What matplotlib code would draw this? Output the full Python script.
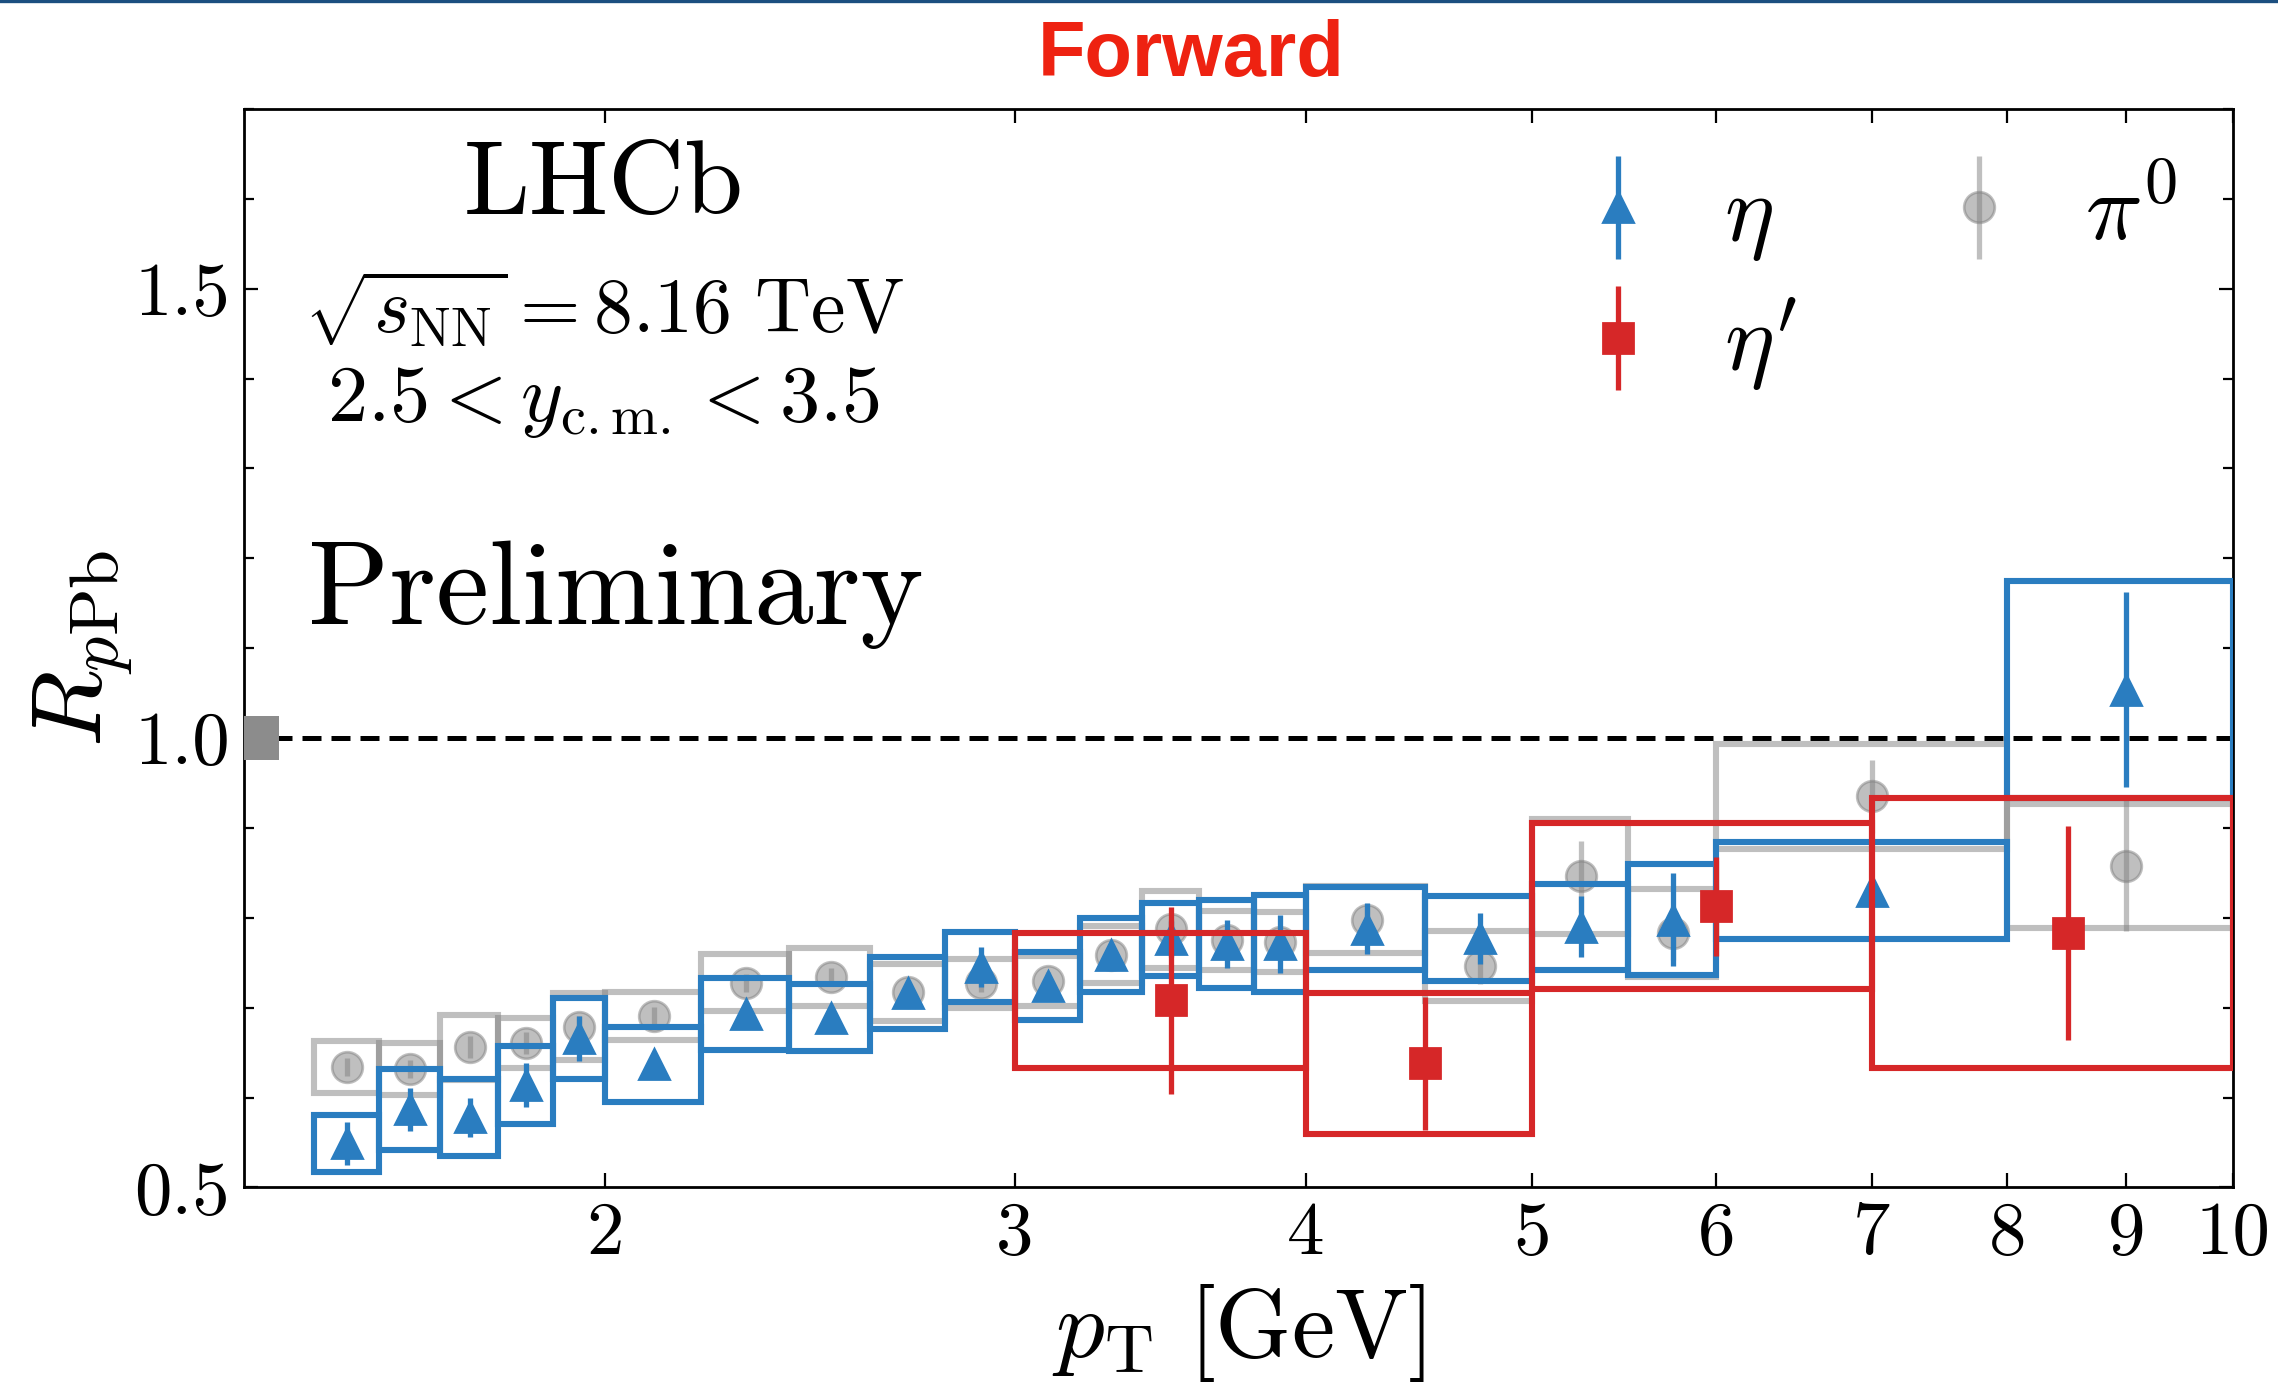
import matplotlib
matplotlib.use("Agg")
from matplotlib import pyplot as plt
from matplotlib.patches import Rectangle
from matplotlib.lines import Line2D
from matplotlib.ticker import MultipleLocator, NullLocator
from matplotlib.container import ErrorbarContainer
from matplotlib.legend_handler import HandlerErrorbar

plt.rcParams["font.family"] = "cmr10"
plt.rcParams["mathtext.fontset"] = "cm"
plt.rcParams["axes.formatter.use_mathtext"] = True

# eta: pT bin edges [GeV], R_pPb, stat. error, syst. error (box half height)
ETA_EDGES = [1.5, 1.6, 1.7, 1.8, 1.9, 2.0, 2.2, 2.4, 2.6, 2.8, 3.0,
             3.2, 3.4, 3.6, 3.8, 4.0, 4.5, 5.0, 5.5, 6.0, 8.0, 10.0]
ETA_VAL = [0.549, 0.587, 0.578, 0.614, 0.666, 0.637, 0.693, 0.689, 0.716, 0.745, 0.724,
           0.759, 0.776, 0.771, 0.771, 0.788, 0.777, 0.790, 0.798, 0.830, 1.054]
ETA_STAT = [0.024, 0.024, 0.022, 0.024, 0.025, 0.010, 0.010, 0.010, 0.010, 0.022, 0.012,
            0.012, 0.020, 0.027, 0.032, 0.028, 0.028, 0.034, 0.052, 0.012, 0.108]
ETA_SYS = [0.032, 0.045, 0.043, 0.043, 0.045, 0.042, 0.040, 0.037, 0.040, 0.039, 0.038,
           0.041, 0.041, 0.049, 0.054, 0.046, 0.047, 0.048, 0.062, 0.054, 0.121]

# pi0
PI0_EDGES = [1.5, 1.6, 1.7, 1.8, 1.9, 2.0, 2.2, 2.4, 2.6, 2.8, 3.0,
             3.2, 3.4, 3.6, 3.8, 4.0, 4.5, 5.0, 5.5, 6.0, 8.0, 10.0]
PI0_VAL = [0.634, 0.632, 0.656, 0.661, 0.679, 0.691, 0.728, 0.734, 0.717, 0.727, 0.730,
           0.759, 0.787, 0.775, 0.773, 0.798, 0.746, 0.846, 0.783, 0.935, 0.858]
PI0_STAT = [0.010, 0.010, 0.012, 0.012, 0.012, 0.010, 0.010, 0.010, 0.010, 0.010, 0.010,
            0.010, 0.012, 0.012, 0.012, 0.015, 0.020, 0.039, 0.030, 0.041, 0.073]
PI0_SYS = [0.029, 0.029, 0.036, 0.028, 0.037, 0.027, 0.032, 0.032, 0.032, 0.027, 0.028,
           0.032, 0.043, 0.033, 0.033, 0.037, 0.039, 0.064, 0.049, 0.058, 0.069]

# eta prime
ETAP_EDGES = [3.0, 4.0, 5.0, 7.0, 10.0]
ETAP_VAL = [0.708, 0.638, 0.813, 0.783]
ETAP_STAT = [0.104, 0.074, 0.055, 0.119]
ETAP_SYS = [0.075, 0.078, 0.092, 0.150]

NORM_UNC = 0.024

XTICKS = [2, 3, 4, 5, 6, 7, 8, 9, 10]
YTICKS = [0.5, 1.0, 1.5]

BLUE = "#2a7dc0"
RED = "#d62728"
GRAY = "gray"


def draw_species(ax, edges, val, stat, sys, color, marker, alpha, z, label):
    for lo, hi, v, s in zip(edges[:-1], edges[1:], val, sys):
        ax.add_patch(Rectangle((lo, v - s), hi - lo, 2 * s, fill=False,
                               edgecolor=color, alpha=alpha, lw=2.2, zorder=z))
    x = [(lo + hi) / 2 for lo, hi in zip(edges[:-1], edges[1:])]
    return ax.errorbar(x, val, yerr=stat, fmt=marker, color=color, alpha=alpha,
                       ms=11, elinewidth=1.9, capsize=0, zorder=z + 0.5, label=label)


fig = plt.figure(figsize=(11.39, 6.94), dpi=200)
ax = fig.add_axes([0.1071, 0.1445, 0.8731, 0.7770])

ax.set_xscale("log")
ax.set_xlim(1.4, 10)
ax.set_ylim(0.5, 1.7)

ax.axhline(1.0, color="k", ls="--", lw=1.8, dashes=(3.8, 2.0), zorder=2)
ax.add_patch(Rectangle((1.4, 1 - NORM_UNC), 0.05, 2 * NORM_UNC, color="#8c8c8c",
                       lw=0, zorder=3))

h_pi0 = draw_species(ax, PI0_EDGES, PI0_VAL, PI0_STAT, PI0_SYS, GRAY, "o", 0.5, 4, r"$\pi^0$")
h_eta = draw_species(ax, ETA_EDGES, ETA_VAL, ETA_STAT, ETA_SYS, BLUE, "^", 1.0, 6, r"$\eta$")
h_etap = draw_species(ax, ETAP_EDGES, ETAP_VAL, ETAP_STAT, ETAP_SYS, RED, "s", 1.0, 8, r"$\eta'$")

ax.set_xticks(XTICKS)
ax.set_xticklabels([str(t) for t in XTICKS])
ax.xaxis.set_minor_locator(NullLocator())
ax.set_yticks(YTICKS)
ax.set_yticklabels(["%.1f" % t for t in YTICKS])
ax.yaxis.set_minor_locator(MultipleLocator(0.1))
ax.tick_params(which="both", direction="in", top=True, right=True, labelsize=27, width=0.8)
ax.tick_params(which="major", length=5, pad=5)
ax.tick_params(which="minor", length=3.5)
for sp in ax.spines.values():
    sp.set_linewidth(1.0)

ax.set_xlabel(r"$p_{\mathrm{T}}\ [\mathrm{GeV}]$", fontsize=35)
ax.xaxis.set_label_coords(0.5, -0.088)
ax.set_ylabel(r"$R_{p\mathrm{Pb}}$", fontsize=36)
ax.yaxis.set_label_coords(-0.055, 0.5)

ax.text(0.181, 0.928, "LHCb", transform=ax.transAxes, ha="center", va="center", fontsize=38)
ax.text(0.181, 0.815, r"$\sqrt{s_{\mathrm{NN}}} = 8.16\ \mathrm{TeV}$", transform=ax.transAxes,
        ha="center", va="center", fontsize=28)
ax.text(0.181, 0.728, r"$2.5 < y_{\mathrm{c.m.}} < 3.5$", transform=ax.transAxes,
        ha="center", va="center", fontsize=29)
ax.text(0.187, 0.55, "Preliminary", transform=ax.transAxes, ha="center", va="center", fontsize=43)

ax.legend(handles=[h_eta, h_etap, h_pi0], ncol=2, loc="upper left",
          bbox_to_anchor=(0.666, 0.942), frameon=False, fontsize=34,
          handlelength=1.05, handletextpad=0.6, columnspacing=1.4, labelspacing=0.35,
          borderpad=0, borderaxespad=0,
          handler_map={ErrorbarContainer: HandlerErrorbar(yerr_size=0.55)})

fig.text(0.523, 0.960, "Forward", ha="center", va="center", color="#ee2211",
         fontsize=28, fontweight="bold", family="Liberation Sans")
fig.add_artist(Line2D([0, 1], [0.999, 0.999], color="#1c4f80", lw=1.2, transform=fig.transFigure))

fig.savefig("out.png", dpi=200)
